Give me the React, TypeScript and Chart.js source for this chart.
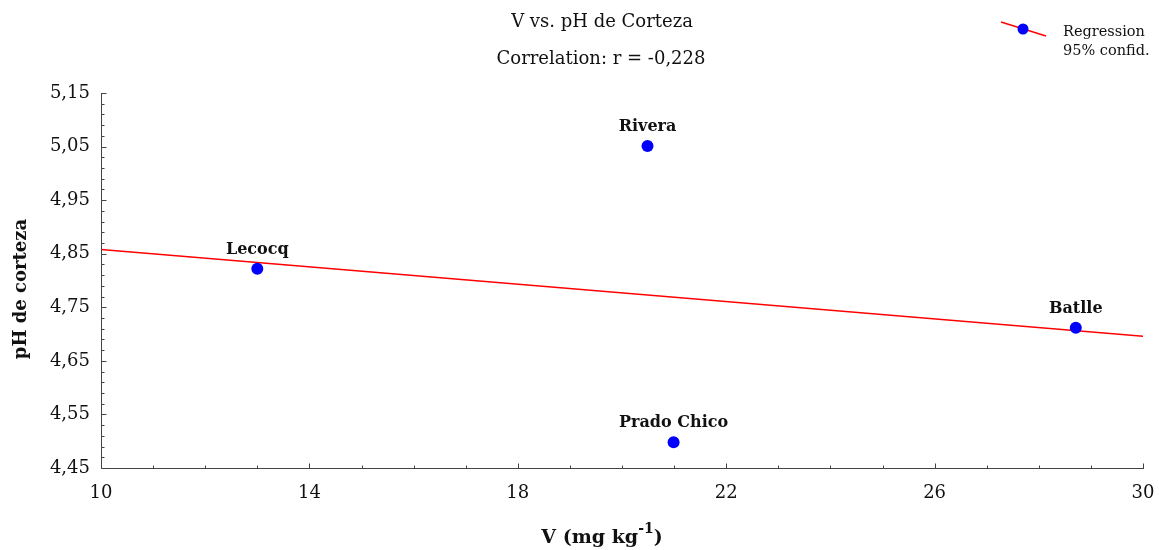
import React, { useEffect, useRef } from 'react';
import { Chart, registerables } from 'chart.js';

Chart.register(...registerables);

const siteNames = ['Lecocq', 'Rivera', 'Prado Chico', 'Batlle'];
const vValues = [13.0, 20.49, 20.99, 28.71];
const phValues = [4.822, 5.051, 4.498, 4.712];
const regressionX = [10, 30];
const regressionY = [4.858, 4.696];
const xTickValues = [10, 14, 18, 22, 26, 30];
const yTickValues = [4.45, 4.55, 4.65, 4.75, 4.85, 4.95, 5.05, 5.15];
const xMinorStep = 1;
const yMinorStep = 0.02;

const titleText = 'V vs. pH de Corteza';
const subtitleText = 'Correlation: r = -0,228';
const yAxisTitle = 'pH de corteza';
const legendLabels = ['Regression', '95% confid.'];

const FONT = '"DejaVu Serif", serif';
const POINT_COLOR = '#0000ff';
const LINE_COLOR = '#ff0000';
const AXIS_COLOR = '#444444';
const TEXT_COLOR = '#111111';

const overlayPlugin = {
  id: 'overlay',
  afterDraw(chart: any) {
    const ctx = chart.ctx;
    const area = chart.chartArea;
    const xs = chart.scales.x;
    const ys = chart.scales.y;
    ctx.save();
    // axis lines
    ctx.strokeStyle = AXIS_COLOR;
    ctx.lineWidth = 1;
    ctx.beginPath();
    const lx = Math.round(area.left) + 0.5;
    const by = Math.round(area.bottom) + 0.5;
    ctx.moveTo(lx, Math.round(area.top));
    ctx.lineTo(lx, by);
    ctx.lineTo(Math.round(area.right) + 1, by);
    ctx.stroke();
    // x ticks (inward)
    const xmin = xTickValues[0];
    const xmax = xTickValues[xTickValues.length - 1];
    const nx = Math.round((xmax - xmin) / xMinorStep);
    ctx.beginPath();
    for (let i = 0; i <= nx; i++) {
      const v = xmin + i * xMinorStep;
      const major = xTickValues.some((t) => Math.abs(t - v) < 1e-6);
      const px = Math.round(xs.getPixelForValue(v)) + 0.5;
      ctx.moveTo(px, by);
      ctx.lineTo(px, by - (major ? 5 : 3));
    }
    const ymin = yTickValues[0];
    const ymax = yTickValues[yTickValues.length - 1];
    const ny = Math.round((ymax - ymin) / yMinorStep);
    for (let i = 0; i <= ny; i++) {
      const v = ymin + i * yMinorStep;
      const major = yTickValues.some((t) => Math.abs(t - v) < 1e-6);
      const py = Math.round(ys.getPixelForValue(v)) + 0.5;
      ctx.moveTo(lx, py);
      ctx.lineTo(lx + (major ? 5 : 3), py);
    }
    ctx.stroke();

    // point labels
    ctx.fillStyle = TEXT_COLOR;
    ctx.font = 'bold 16px ' + FONT;
    ctx.textAlign = 'center';
    ctx.textBaseline = 'middle';
    siteNames.forEach((name, i) => {
      const px = xs.getPixelForValue(vValues[i]);
      const py = ys.getPixelForValue(phValues[i]);
      ctx.fillText(name, px, py - 19);
    });

    // titles
    ctx.font = '18px ' + FONT;
    ctx.fillText(titleText, 602, 22);
    ctx.fillText(subtitleText, 601, 59);

    // y axis title
    ctx.save();
    ctx.translate(21, 289);
    ctx.rotate(-Math.PI / 2);
    ctx.font = 'bold 18px ' + FONT;
    ctx.fillText(yAxisTitle, 0, 0);
    ctx.restore();

    // x axis title with superscript
    ctx.textAlign = 'left';
    ctx.textBaseline = 'alphabetic';
    const mainFont = 'bold 19px ' + FONT;
    const supFont = 'bold 14px ' + FONT;
    const p1 = 'V (mg kg';
    const sup = '-1';
    const p2 = ')';
    ctx.font = mainFont;
    const w1 = ctx.measureText(p1).width;
    const w3 = ctx.measureText(p2).width;
    ctx.font = supFont;
    const w2 = ctx.measureText(sup).width;
    const total = w1 + w2 + w3;
    const sx = 602 - total / 2;
    const base = 543;
    ctx.font = mainFont;
    ctx.fillText(p1, sx, base);
    ctx.font = supFont;
    ctx.fillText(sup, sx + w1, base - 10);
    ctx.font = mainFont;
    ctx.fillText(p2, sx + w1 + w2, base);

    // legend
    ctx.strokeStyle = LINE_COLOR;
    ctx.lineWidth = 1.5;
    ctx.beginPath();
    ctx.moveTo(1001, 22);
    ctx.lineTo(1046, 36);
    ctx.stroke();
    ctx.fillStyle = POINT_COLOR;
    ctx.beginPath();
    ctx.arc(1023, 29, 5.5, 0, Math.PI * 2);
    ctx.fill();
    ctx.fillStyle = TEXT_COLOR;
    ctx.font = '14.5px ' + FONT;
    ctx.textBaseline = 'middle';
    ctx.fillText(legendLabels[0], 1063, 32);
    ctx.fillText(legendLabels[1], 1063, 51);
    ctx.restore();
  },
};

export default function App() {
  const ref = useRef<HTMLCanvasElement | null>(null);
  useEffect(() => {
    if (!ref.current) return;
    const chart = new Chart(ref.current, {
      type: 'scatter',
      data: {
        datasets: [
          {
            label: 'Sites',
            data: vValues.map((x, i) => ({ x, y: phValues[i] })),
            backgroundColor: POINT_COLOR,
            borderColor: POINT_COLOR,
            pointRadius: 6,
            pointBorderWidth: 0,
            showLine: false,
            order: 0,
          },
          {
            label: 'Regression',
            data: regressionX.map((x, i) => ({ x, y: regressionY[i] })),
            borderColor: LINE_COLOR,
            backgroundColor: LINE_COLOR,
            borderWidth: 1.5,
            pointRadius: 0,
            showLine: true,
            order: 1,
          },
        ],
      },
      options: {
        animation: false,
        responsive: true,
        maintainAspectRatio: false,
        layout: { padding: { top: 93, right: 16, left: 0, bottom: 0 } },
        plugins: {
          legend: { display: false },
          title: { display: false },
          tooltip: { enabled: false },
        },
        scales: {
          x: {
            type: 'linear',
            min: xTickValues[0],
            max: xTickValues[xTickValues.length - 1],
            afterBuildTicks: (s: any) => {
              s.ticks = xTickValues.map((v) => ({ value: v }));
            },
            afterFit: (s: any) => {
              s.height = 82;
              s.paddingLeft = 0;
              s.paddingRight = 0;
            },
            grid: { display: false, drawTicks: false },
            border: { display: false },
            ticks: {
              color: TEXT_COLOR,
              font: { family: FONT, size: 18 },
              padding: 15,
              maxRotation: 0,
              autoSkip: false,
              callback: (v: any) => String(v),
            },
          },
          y: {
            type: 'linear',
            min: yTickValues[0],
            max: yTickValues[yTickValues.length - 1],
            afterBuildTicks: (s: any) => {
              s.ticks = yTickValues.map((v) => ({ value: v }));
            },
            afterFit: (s: any) => {
              s.width = 101;
              s.paddingTop = 0;
              s.paddingBottom = 0;
            },
            grid: { display: false, drawTicks: false },
            border: { display: false },
            ticks: {
              color: TEXT_COLOR,
              font: { family: FONT, size: 18 },
              padding: 11,
              autoSkip: false,
              callback: (v: any) => Number(v).toFixed(2).replace('.', ','),
            },
          },
        },
      },
      plugins: [overlayPlugin],
    } as any);
    return () => chart.destroy();
  }, []);
  return (
    <div style={{ position: 'absolute', left: 0, top: 0, width: 1159, height: 550, background: '#fff' }}>
      <canvas ref={ref} />
    </div>
  );
}
